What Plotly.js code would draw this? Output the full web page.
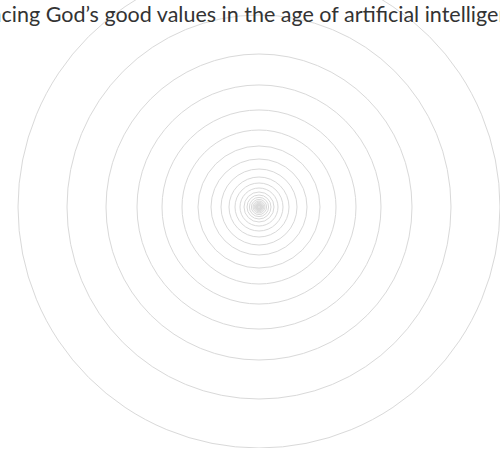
<!DOCTYPE html>
<html>
<head>
<meta charset="utf-8">
<script src="https://cdn.plot.ly/plotly-3.0.1.min.js"></script>
<style>
  html, body { margin: 0; padding: 0; width: 500px; height: 450px; overflow: hidden; background: #fff; }
  #chart { position: absolute; left: -91px; top: -34px; width: 700px; height: 482px; }
</style>
</head>
<body>
<div id="chart"></div>
<script>
// Chart title
const chartTitle = "Embracing God\u2019s good values in the age of artificial intelligence";
// Concentric ring radii (outermost ring = 241)
const ringRadii = [241, 192, 153, 122, 97, 77, 61, 48, 38, 30, 24, 19, 15, 12, 9.6, 7.6, 6, 4.8, 3.8, 3, 2.4, 1.9, 1.5, 1.2, 1];
// No visible data series
const seriesR = [];
const seriesTheta = [];

const trace = {
  type: 'scatterpolar',
  r: seriesR,
  theta: seriesTheta,
  mode: 'markers',
  hoverinfo: 'skip',
  showlegend: false
};

const layout = {
  width: 700,
  height: 482,
  margin: { l: 0, r: 0, t: 0, b: 0, pad: 0 },
  paper_bgcolor: '#ffffff',
  showlegend: false,
  title: {
    text: chartTitle,
    x: 0.468,
    xref: 'paper',
    xanchor: 'center',
    y: 1 - 48 / 482,
    yref: 'container',
    yanchor: 'middle',
    font: { family: 'Source Sans Pro, Lato, Noto Sans, sans-serif', size: 21.5, color: '#333333' }
  },
  polar: {
    domain: { x: [0, 1], y: [0, 1] },
    bgcolor: '#ffffff',
    radialaxis: {
      range: [0, 241],
      tickmode: 'array',
      tickvals: ringRadii,
      showticklabels: false,
      ticks: '',
      showline: false,
      showgrid: true,
      gridcolor: '#d9d9d9',
      gridwidth: 1
    },
    angularaxis: {
      showgrid: false,
      showticklabels: false,
      ticks: '',
      showline: true,
      linecolor: '#d9d9d9',
      linewidth: 1
    }
  }
};

Plotly.newPlot('chart', [trace], layout, { staticPlot: true, displayModeBar: false });
</script>
</body>
</html>
